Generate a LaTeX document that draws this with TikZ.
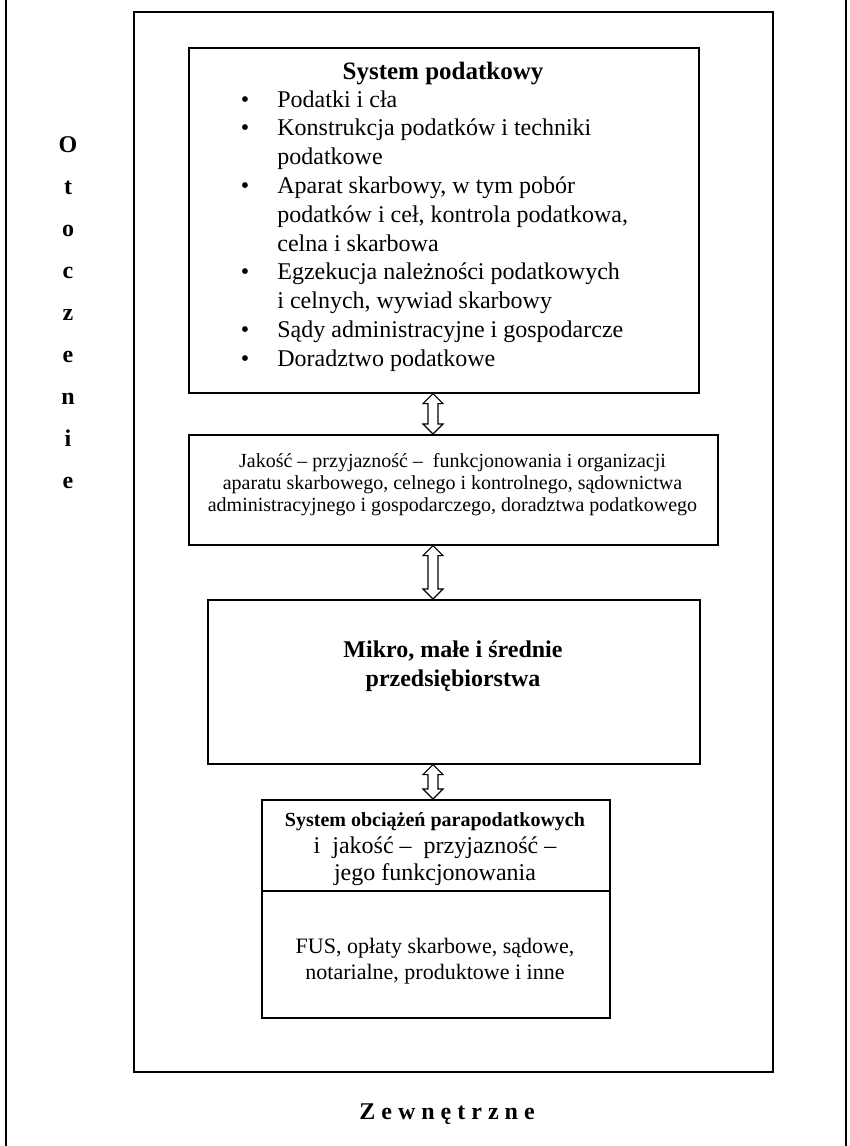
\documentclass[tikz,border=0pt]{standalone}
\usepackage{fontspec}
\setmainfont{Liberation Serif}
\usetikzlibrary{calc}
\newcommand\udarrow[2]{%
  \draw[arrowst] let \p1=#1, \p2=#2 in
    (\x1,\y1) -- (\x1+5pt,\y1-5pt) -- (\x1+2.5pt,\y1-5pt) -- (\x1+2.5pt,\y2+5pt)
    -- (\x1+5pt,\y2+5pt) -- (\x1,\y2) -- (\x1-5pt,\y2+5pt) -- (\x1-2.5pt,\y2+5pt)
    -- (\x1-2.5pt,\y1-5pt) -- (\x1-5pt,\y1-5pt) -- cycle;}
\begin{document}
\begin{tikzpicture}[x=0.5pt,y=-0.5pt,
  boxst/.style={draw, line width=0.8pt, inner sep=0pt, anchor=north west},
  arrowst/.style={draw, line width=0.6pt, fill=white},
  itemst/.style={anchor=base west, inner sep=0pt, font=\fontsize{12}{14}\selectfont},
  bulst/.style={anchor=base, inner sep=0pt, font=\fontsize{12}{14}\selectfont},
  ctrst/.style={anchor=base, inner sep=0pt},
  sidest/.style={anchor=base, inner sep=0pt, font=\bfseries\fontsize{12}{14}\selectfont}]
\useasboundingbox (0,0) rectangle (850,1146);
% outer border lines
\draw[line width=0.8pt] (6,0) -- (6,1146);
\draw[line width=0.8pt] (846,0) -- (846,1146);
% inner frame
\node[boxst, minimum width=319.5pt, minimum height=530pt] (frame) at (133,11) {};
% boxes
\node[boxst, minimum width=255pt, minimum height=172.5pt] (b1) at (188,47) {};
\node[boxst, minimum width=264.5pt, minimum height=55pt] (b2) at (188,434) {};
\node[boxst, minimum width=246pt, minimum height=82pt] (b3) at (207,599) {};
\node[boxst, minimum width=174pt, minimum height=109pt] (b4) at (261,799) {};
\coordinate (div) at (0,891);
\draw[line width=0.8pt] (b4.west |- div) -- (b4.east |- div);
% arrows
\coordinate (ax) at (433,0);
\udarrow{(ax |- b1.south)}{(ax |- b2.north)}
\udarrow{(ax |- b2.south)}{(ax |- b3.north)}
\udarrow{(ax |- b3.south)}{(ax |- b4.north)}
% box 1 text
\node[ctrst, font=\bfseries\fontsize{12.5}{14}\selectfont] (h1) at (443,79) {System podatkowy};
\node[bulst] (u1) at (245,107) {\textbullet};
\node[itemst] (t1) at (277,107) {Podatki i cła};
\node[bulst] (u2) at (245,135.8) {\textbullet};
\node[itemst] (t2) at (277,135.8) {Konstrukcja podatków i techniki};
\node[itemst] (t2b) at (277,164.6) {podatkowe};
\node[bulst] (u3) at (245,193.4) {\textbullet};
\node[itemst] (t3) at (277,193.4) {Aparat skarbowy, w tym pobór};
\node[itemst] (t3b) at (277,222.2) {podatków i ceł, kontrola podatkowa,};
\node[itemst] (t3c) at (277,251) {celna i skarbowa};
\node[bulst] (u4) at (245,279.8) {\textbullet};
\node[itemst] (t4) at (277,279.8) {Egzekucja należności podatkowych};
\node[itemst] (t4b) at (277,308.6) {i celnych, wywiad skarbowy};
\node[bulst] (u5) at (245,337.4) {\textbullet};
\node[itemst] (t5) at (277,337.4) {Sądy administracyjne i gospodarcze};
\node[bulst] (u6) at (245,366.2) {\textbullet};
\node[itemst] (t6) at (277,366.2) {Doradztwo podatkowe};
% box 2 text
\node[ctrst, font=\fontsize{10}{12}\selectfont] (j1) at (452.5,467) {Jakość – przyjazność –\ \ funkcjonowania i organizacji};
\node[ctrst, font=\fontsize{10}{12}\selectfont] (j2) at (452.5,489) {aparatu skarbowego, celnego i kontrolnego, sądownictwa};
\node[ctrst, font=\fontsize{10}{12}\selectfont] (j3) at (452.5,511) {administracyjnego i gospodarczego, doradztwa podatkowego};
% box 3 text
\node[ctrst, font=\bfseries\fontsize{12}{14}\selectfont] (m1) at (453,657) {Mikro, małe i średnie};
\node[ctrst, font=\bfseries\fontsize{12}{14}\selectfont] (m2) at (453,686) {przedsiębiorstwa};
% box 4 text
\node[ctrst, font=\bfseries\fontsize{10}{12}\selectfont] (s1) at (435,826) {System obciążeń parapodatkowych};
\node[ctrst, font=\fontsize{12}{14}\selectfont] (s2) at (435,853) {i\ \ jakość –\ \ przyjazność –};
\node[ctrst, font=\fontsize{12}{14}\selectfont] (s3) at (435,880) {jego funkcjonowania};
\node[ctrst, font=\fontsize{11}{13}\selectfont] (f1) at (435,953) {FUS, opłaty skarbowe, sądowe,};
\node[ctrst, font=\fontsize{11}{13}\selectfont] (f2) at (435,979) {notarialne, produktowe i inne};
% side label
\node[sidest] (o1) at (68,152) {O};
\node[sidest] (o2) at (68,194) {t};
\node[sidest] (o3) at (68,236) {o};
\node[sidest] (o4) at (68,278) {c};
\node[sidest] (o5) at (68,320) {z};
\node[sidest] (o6) at (68,362) {e};
\node[sidest] (o7) at (68,404) {n};
\node[sidest] (o8) at (68,446) {i};
\node[sidest] (o9) at (68,488) {e};
% bottom label
\node[sidest] (zw) at (447,1119) {Z e w n ę t r z n e};
\end{tikzpicture}
\end{document}
